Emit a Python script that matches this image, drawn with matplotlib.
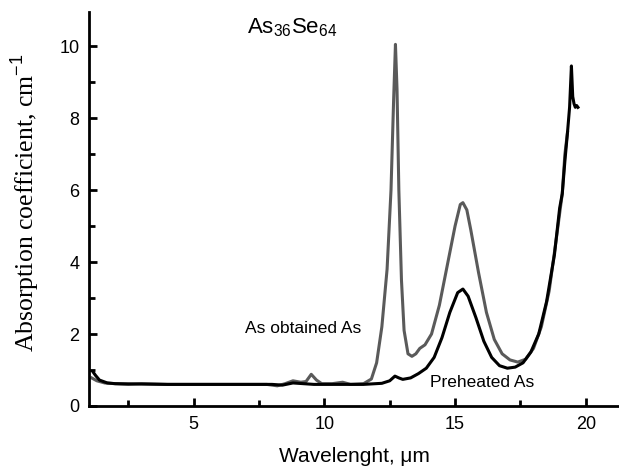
import matplotlib
matplotlib.use("Agg")
import matplotlib.pyplot as plt
from matplotlib.ticker import MultipleLocator

plt.rcParams['font.family'] = ['Liberation Sans', 'DejaVu Sans']
plt.rcParams['mathtext.fontset'] = 'custom'
plt.rcParams['mathtext.rm'] = 'Liberation Sans'
plt.rcParams['mathtext.it'] = 'Liberation Sans:italic'

# As obtained As sample, wavelength (um) vs absorption (1/cm)
obtained_wl = [1.1, 1.3, 1.6, 2.0, 2.5, 3.0, 3.5, 4.0, 5.0, 6.0, 7.0, 7.8, 8.2, 8.5,
               8.8, 9.1, 9.3, 9.5, 9.7, 9.9, 10.3, 10.7, 11.0, 11.5, 11.8, 12.0,
               12.2, 12.4, 12.55, 12.65, 12.72, 12.78, 12.85, 12.95, 13.05, 13.2,
               13.35, 13.5, 13.65, 13.85, 14.1, 14.4, 14.7, 15.0, 15.2, 15.3, 15.45,
               15.6, 15.9, 16.2, 16.5, 16.8, 17.1, 17.4, 17.7, 18.0, 18.3, 18.6,
               18.9, 19.1, 19.2, 19.3]
obtained_abs = [0.78, 0.70, 0.64, 0.62, 0.60, 0.62, 0.61, 0.60, 0.60, 0.60, 0.60, 0.60,
                0.56, 0.62, 0.70, 0.66, 0.68, 0.88, 0.72, 0.62, 0.62, 0.66, 0.60, 0.62,
                0.75, 1.2, 2.2, 3.8, 6.0, 8.5, 10.05, 8.8, 6.0, 3.5, 2.1, 1.45, 1.38,
                1.45, 1.6, 1.7, 2.0, 2.8, 3.9, 5.0, 5.6, 5.65, 5.45, 4.9, 3.7, 2.6,
                1.85, 1.45, 1.28, 1.22, 1.3, 1.6, 2.2, 3.2, 4.8, 5.9, 7.0, 7.6]

# Preheated As sample
preheated_wl = [1.15, 1.25, 1.4, 1.7, 2.0, 3.0, 4.0, 5.0, 6.0, 7.0, 8.0, 8.4, 8.8, 9.2,
                9.6, 10.5, 11.5, 12.2, 12.5, 12.7, 12.85, 13.0, 13.3, 13.6, 13.9, 14.2,
                14.5, 14.8, 15.1, 15.3, 15.5, 15.8, 16.1, 16.4, 16.7, 17.0, 17.3, 17.6,
                17.9, 18.2, 18.5, 18.8, 19.0, 19.1, 19.2, 19.3, 19.38, 19.45, 19.5,
                19.55, 19.6, 19.65, 19.7]
preheated_abs = [0.95, 0.85, 0.72, 0.64, 0.62, 0.61, 0.60, 0.60, 0.60, 0.60, 0.60, 0.58,
                 0.64, 0.62, 0.60, 0.60, 0.60, 0.63, 0.70, 0.83, 0.78, 0.74, 0.78, 0.90,
                 1.05, 1.35, 1.9, 2.6, 3.15, 3.25, 3.05, 2.45, 1.8, 1.35, 1.12, 1.05,
                 1.08, 1.2, 1.5, 2.0, 2.9, 4.2, 5.5, 5.9, 6.8, 7.6, 8.3, 9.45, 8.6, 8.4,
                 8.3, 8.35, 8.3]

fig = plt.figure(figsize=(6.19, 4.75), dpi=100)
ax = fig.add_axes([0.1438, 0.1453, 0.8562, 0.8295])

ax.plot(obtained_wl, obtained_abs, color='#5a5a5a', lw=2.2)
ax.plot(preheated_wl, preheated_abs, color='black', lw=2.2)

ax.set_xlim(1, 21.27)
ax.set_ylim(0, 10.95)
ax.xaxis.set_major_locator(MultipleLocator(5))
ax.xaxis.set_minor_locator(MultipleLocator(2.5))
ax.yaxis.set_major_locator(MultipleLocator(2))
ax.yaxis.set_minor_locator(MultipleLocator(1))

for side in ('top', 'right'):
    ax.spines[side].set_visible(False)
for side in ('left', 'bottom'):
    ax.spines[side].set_linewidth(2)
ax.tick_params(which='major', direction='in', length=6, width=2, labelsize=13, pad=7)
ax.tick_params(which='minor', direction='in', length=4, width=2)

ax.set_xlabel('Wavelenght, μm', fontsize=15, labelpad=10)
ax.set_ylabel('Absorption coefficient, cm$^{-1}$', fontsize=18.5,
              family=['Liberation Serif', 'DejaVu Serif'])
ax.yaxis.set_label_coords(-0.088, 0.515)

ax.text(7.05, 10.5, 'As$_{36}$Se$_{64}$', fontsize=16, ha='left', va='center')
ax.text(6.95, 2.14, 'As obtained As', fontsize=12.5, ha='left', va='center')
ax.text(14.05, 0.64, 'Preheated As', fontsize=12.5, ha='left', va='center')

fig.savefig('out.png', dpi=100)
